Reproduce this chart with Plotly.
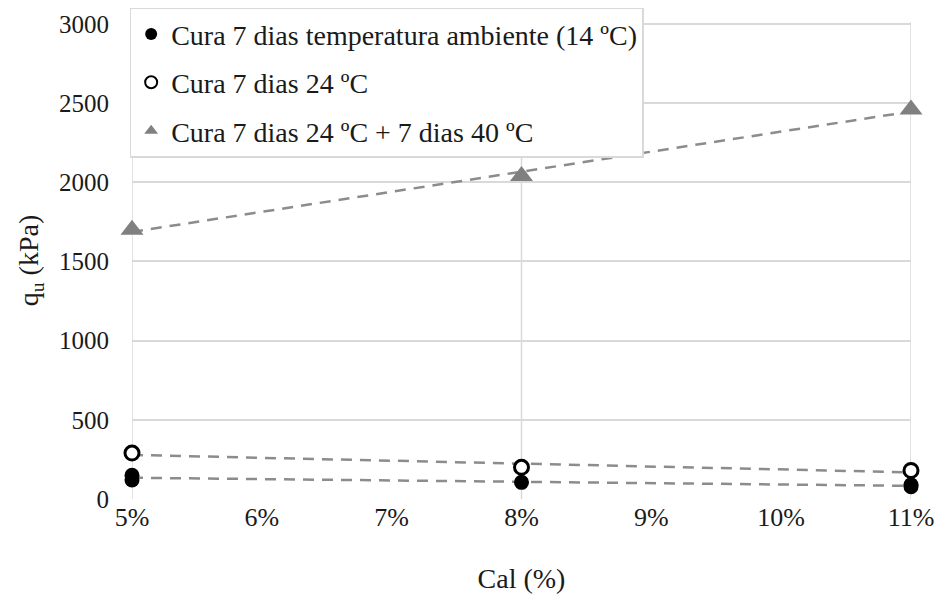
import numpy as np
import plotly.graph_objects as go

# ---- data ----
cal_14 = [5, 5, 8, 11, 11]
qu_14 = [150, 120, 105, 90, 78]

cal_24 = [5, 8, 11]
qu_24 = [290, 200, 180]

cal_40 = [5, 8, 11]
qu_40 = [1700, 2040, 2460]

names = [
    "Cura 7 dias temperatura ambiente (14 ºC)",
    "Cura 7 dias 24 ºC",
    "Cura 7 dias 24 ºC + 7 dias 40 ºC",
]
x_ticks = [5, 6, 7, 8, 9, 10, 11]
y_ticks = [0, 500, 1000, 1500, 2000, 2500, 3000]
vgrid = [5, 8, 11]

FONT = "Liberation Serif"
TXT = "#1a1a1a"
GRID = "#d9d9d9"
TREND = "#8c8c8c"

fig = go.Figure()

# linear trendlines (least squares on the data)
for xs, ys in [(cal_14, qu_14), (cal_24, qu_24), (cal_40, qu_40)]:
    m, b = np.polyfit(xs, ys, 1)
    xl = np.array([min(xs), max(xs)], dtype=float)
    fig.add_trace(go.Scatter(
        x=xl, y=m * xl + b, mode="lines", showlegend=False, hoverinfo="skip",
        line=dict(color=TREND, width=2.5, dash="11px,8px"), cliponaxis=False,
    ))

fig.add_trace(go.Scatter(
    x=cal_14, y=qu_14, mode="markers", name=names[0], legendgroup="a",
    marker=dict(symbol="circle", size=15, color="black"), cliponaxis=False,
))
fig.add_trace(go.Scatter(
    x=cal_24, y=qu_24, mode="markers", name=names[1], legendgroup="b",
    marker=dict(symbol="circle", size=14, color="white",
                line=dict(color="black", width=3)), cliponaxis=False,
))
fig.add_trace(go.Scatter(
    x=cal_40, y=qu_40, mode="markers", name=names[2], legendgroup="c",
    marker=dict(symbol="triangle-up", size=20, color="#808080"), cliponaxis=False,
))

for v in vgrid:
    fig.add_vline(x=v, line=dict(color=GRID, width=1.5), layer="below")

# the page body adds an 8px offset, so the figure is 8px smaller and shifted
fig.update_layout(
    width=936, height=602,
    margin=dict(l=124, r=33, t=14, b=111, autoexpand=False),
    paper_bgcolor="white", plot_bgcolor="white",
    font=dict(family=FONT, size=26, color=TXT),
    showlegend=True,
    legend=dict(
        x=-0.003, y=1.03, xanchor="left", yanchor="top",
        bgcolor="white", bordercolor=GRID, borderwidth=1.5,
        font=dict(family=FONT, size=28, color=TXT),
        traceorder="grouped", tracegroupgap=9, itemsizing="constant",
    ),
    xaxis=dict(
        range=[5, 11], tickvals=x_ticks, ticktext=[f"{t}%" for t in x_ticks],
        showgrid=False, zeroline=False, showline=False, automargin=False,
        ticks="", ticklabelstandoff=0, ticklabeloverflow="allow",
        title=dict(text="Cal (%)", font=dict(family=FONT, size=28, color=TXT),
                   standoff=37),
        tickfont=dict(family=FONT, size=26, color=TXT),
    ),
    yaxis=dict(
        range=[0, 3012], tickvals=y_ticks,
        showgrid=True, gridcolor=GRID, gridwidth=1.5, automargin=False,
        zeroline=False, showline=False, ticks="", ticklabelstandoff=22,
        ticklabeloverflow="allow",
        title=dict(text="q<sub>u</sub> (kPa)",
                   font=dict(family=FONT, size=28, color=TXT), standoff=12),
        tickfont=dict(family=FONT, size=25, color=TXT),
    ),
)

fig.write_html("out.html")
